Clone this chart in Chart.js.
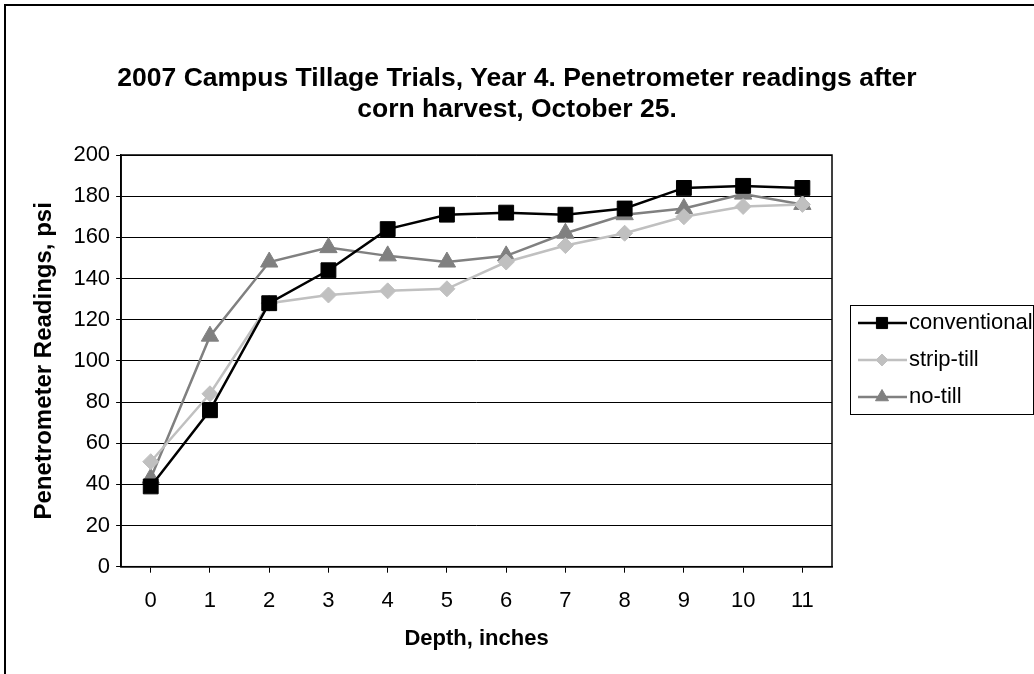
<!DOCTYPE html>
<html>
<head>
<meta charset="utf-8">
<script src="https://cdn.jsdelivr.net/npm/chart.js@4.4.1/dist/chart.umd.min.js"></script>
<style>
  html, body { margin: 0; padding: 0; background: #fff; }
  #wrap { width: 1034px; height: 674px; }
</style>
</head>
<body>
<div id="wrap"><canvas id="chart" width="1034" height="674"></canvas></div>
<script>
// Depth in inches (x categories)
const depths = ['0', '1', '2', '3', '4', '5', '6', '7', '8', '9', '10', '11'];

// Penetrometer readings, psi
const conventional = [39, 76, 128, 144, 164, 171, 172, 171, 174, 184, 185, 184];
const stripTill    = [51, 84, 128, 132, 134, 135, 148, 156, 162, 170, 175, 176];
const noTill       = [43, 112, 148, 155, 151, 148, 151, 162, 171, 174, 181, 176];

const seriesNames = ['conventional', 'strip-till', 'no-till'];
const titleLines = ['2007 Campus Tillage Trials, Year 4. Penetrometer readings after',
                    'corn harvest, October 25.'];

const FONT = 'Liberation Sans, Arial, Helvetica, sans-serif';

// title is centred on the whole picture, not on the plot
const titlePlugin = {
    id: 'pageTitle',
    afterDraw(chart) {
        const ctx = chart.ctx;
        ctx.save();
        ctx.fillStyle = '#000';
        ctx.font = 'bold 26.5px ' + FONT;
        ctx.textAlign = 'center';
        ctx.textBaseline = 'middle';
        ctx.fillText(titleLines[0], 517, 79);
        ctx.fillText(titleLines[1], 517, 110);
        ctx.restore();
    }
};

// frame around the whole chart and the plot area
const framePlugin = {
    id: 'frame',
    afterDraw(chart) {
        const ctx = chart.ctx;
        const a = chart.chartArea;
        ctx.save();
        ctx.strokeStyle = '#000';
        ctx.lineWidth = 2;
        ctx.strokeRect(5, 5, 1100, 800);
        ctx.lineWidth = 1.5;
        ctx.strokeRect(a.left, a.top, a.right - a.left, a.bottom - a.top);
        ctx.restore();
    }
};

// boxed legend on the right, like the original
const boxLegendPlugin = {
    id: 'boxLegend',
    afterDraw(chart) {
        const ctx = chart.ctx;
        const x0 = 850, y0 = 305, w = 183, h = 109;
        ctx.save();
        ctx.strokeStyle = '#000';
        ctx.lineWidth = 1;
        ctx.strokeRect(x0 + 0.5, y0 + 0.5, w, h);
        const rows = [323, 360, 397];
        chart.data.datasets.forEach((ds, i) => {
            const y = rows[i];
            ctx.strokeStyle = ds.borderColor;
            ctx.lineWidth = ds.borderWidth;
            ctx.beginPath();
            ctx.moveTo(858, y);
            ctx.lineTo(907, y);
            ctx.stroke();
            // marker in the middle of the sample line
            ctx.fillStyle = ds.pointBackgroundColor;
            ctx.strokeStyle = ds.pointBorderColor;
            ctx.lineWidth = 1;
            Chart.helpers.drawPoint(ctx, {
                pointStyle: ds.pointStyle,
                radius: ds.pointRadius * 0.75,
                borderWidth: 1
            }, 882, y);
            ctx.fillStyle = '#000';
            ctx.font = '22px ' + FONT;
            ctx.textBaseline = 'middle';
            ctx.textAlign = 'left';
            ctx.fillText(ds.label, 909, y);
        });
        ctx.restore();
    }
};

const ctx = document.getElementById('chart').getContext('2d');
new Chart(ctx, {
    type: 'line',
    data: {
        labels: depths,
        datasets: [
            {
                label: seriesNames[0],
                data: conventional,
                borderColor: '#000000',
                backgroundColor: '#000000',
                pointBackgroundColor: '#000000',
                pointBorderColor: '#000000',
                borderWidth: 2.5,
                pointStyle: 'rect',
                pointRadius: 10.5,
                pointBorderWidth: 1,
                tension: 0
            },
            {
                label: seriesNames[1],
                data: stripTill,
                borderColor: '#c0c0c0',
                backgroundColor: '#c0c0c0',
                pointBackgroundColor: '#c0c0c0',
                pointBorderColor: '#c0c0c0',
                borderWidth: 2.5,
                pointStyle: 'rectRot',
                pointRadius: 8,
                pointBorderWidth: 1,
                tension: 0
            },
            {
                label: seriesNames[2],
                data: noTill,
                borderColor: '#808080',
                backgroundColor: '#808080',
                pointBackgroundColor: '#808080',
                pointBorderColor: '#808080',
                borderWidth: 2.5,
                pointStyle: 'triangle',
                pointRadius: 10,
                pointBorderWidth: 1,
                tension: 0
            }
        ]
    },
    options: {
        responsive: false,
        animation: false,
        layout: {
            padding: { left: 14, right: 202, top: 155, bottom: 11.5 }
        },
        plugins: {
            legend: { display: false },
            tooltip: { enabled: false },
            title: { display: false }
        },
        scales: {
            x: {
                offset: true,
                grid: {
                    display: true,
                    drawOnChartArea: false,
                    drawTicks: true,
                    tickLength: 6,
                    color: '#000'
                },
                border: { color: '#000', width: 1.5 },
                ticks: {
                    color: '#000',
                    font: { family: FONT, size: 22 },
                    padding: 15,
                    maxRotation: 0
                },
                title: {
                    display: true,
                    text: 'Depth, inches',
                    color: '#000',
                    font: { family: FONT, size: 22, weight: 'bold' },
                    padding: { top: -3, bottom: 10 }
                }
            },
            y: {
                min: 0,
                max: 200,
                grid: {
                    color: '#000',
                    lineWidth: 1,
                    drawTicks: true,
                    tickLength: 5
                },
                border: { color: '#000', width: 1.5 },
                ticks: {
                    stepSize: 20,
                    color: '#000',
                    font: { family: FONT, size: 22 },
                    padding: 6
                },
                title: {
                    display: true,
                    text: 'Penetrometer Readings, psi',
                    color: '#000',
                    font: { family: FONT, size: 24, weight: 'bold' },
                    padding: { top: 15.6, bottom: 9 }
                }
            }
        }
    },
    plugins: [framePlugin, boxLegendPlugin, titlePlugin]
});
</script>
</body>
</html>
